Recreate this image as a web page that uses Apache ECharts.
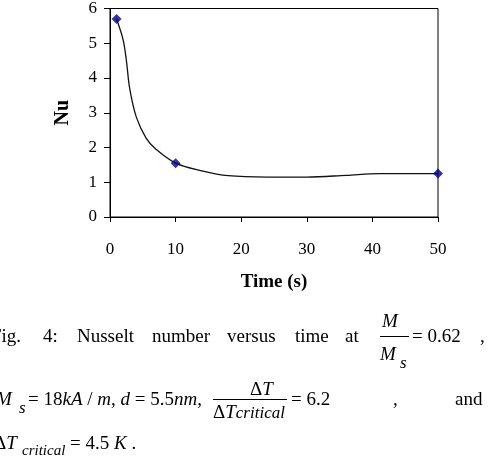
<!DOCTYPE html>
<html>
<head>
<meta charset="utf-8">
<script src="https://cdn.jsdelivr.net/npm/echarts@6/dist/echarts.min.js"></script>
<style>
  html, body { margin: 0; padding: 0; background: #fff; }
  #chart { position: absolute; left: 0; top: 0; width: 489px; height: 468px; }
  #caption span { position: absolute; font-family: "Liberation Serif", serif; font-size: 19px; line-height: 19px; color: #000; white-space: nowrap; }
  #caption .i { font-style: italic; }
  #caption .sub { font-size: 17px; font-style: italic; }
  #caption .bar { position: absolute; border-top: 1px solid #000; height: 0; }
</style>
</head>
<body>
<div id="chart"></div>
<div id="caption">
  <!-- line 1 -->
  <span style="left:-9px;top:326px">Fig.</span>
  <span style="left:43px;top:326px">4:</span>
  <span style="left:77px;top:326px">Nusselt</span>
  <span style="left:152px;top:326px">number</span>
  <span style="left:227px;top:326px">versus</span>
  <span style="left:295px;top:326px">time</span>
  <span style="left:345px;top:326px">at</span>
  <span class="i" style="left:382px;top:311px">M</span>
  <div class="bar" style="left:380px;top:336px;width:29px"></div>
  <span class="i" style="left:380px;top:344px">M</span>
  <span class="sub" style="left:400px;top:353px">s</span>
  <span style="left:412px;top:326px">= 0.62</span>
  <span style="left:480px;top:326px">,</span>
  <!-- line 2 -->
  <span class="i" style="left:-4px;top:389px">M</span>
  <span class="sub" style="left:19px;top:398px">s</span>
  <span style="left:28px;top:389px">= 18<i>kA</i> / <i>m</i>, <i>d</i> = 5.5<i>nm</i>,</span>
  <span style="left:250px;top:379px">Δ<i>T</i></span>
  <div class="bar" style="left:213px;top:399px;width:74px"></div>
  <span style="left:213px;top:402px">Δ<i>T</i><i style="font-size:17px">critical</i></span>
  <span style="left:291px;top:389px">= 6.2</span>
  <span style="left:393px;top:389px">,</span>
  <span style="left:455px;top:389px">and</span>
  <!-- line 3 -->
  <span style="left:-6px;top:433px">Δ<i>T</i></span>
  <span class="sub" style="left:22px;top:441px;font-size:15px">critical</span>
  <span style="left:70px;top:433px">= 4.5 <i>K</i> .</span>
</div>
<script>
// time (s) and Nusselt number
var times = [1, 2, 2.5, 3, 4, 5.5, 7, 10, 14, 18, 24, 30, 36, 41, 50];
var nu = [5.7, 5.1, 4.5, 3.7, 2.88, 2.27, 1.95, 1.55, 1.33, 1.19, 1.15, 1.15, 1.2, 1.25, 1.25];
// points drawn with markers
var markTimes = [1, 10, 50];
var markNu = [5.7, 1.55, 1.25];
var xTicks = [0, 10, 20, 30, 40, 50];
var yTicks = [0, 1, 2, 3, 4, 5, 6];

var chart = echarts.init(document.getElementById('chart'));

var curve = times.map(function (t, i) { return [t, nu[i]]; });
var marks = markTimes.map(function (t, i) { return [t, markNu[i]]; });

var font = 'Liberation Serif';

chart.setOption({
  animation: false,
  backgroundColor: '#fff',
  grid: {
    left: 110, right: 51, top: 7, bottom: 251,
    show: true, borderColor: '#000', borderWidth: 1
  },
  xAxis: {
    type: 'value',
    min: xTicks[0], max: xTicks[xTicks.length - 1], interval: 10,
    axisLine: { lineStyle: { color: '#000', width: 1 } },
    axisTick: { show: true, length: 5, lineStyle: { color: '#000' } },
    splitLine: { show: false },
    axisLabel: { color: '#000', fontFamily: font, fontSize: 17, margin: 24 },
    name: 'Time (s)',
    nameLocation: 'middle',
    nameGap: 56,
    nameTextStyle: { color: '#000', fontFamily: font, fontSize: 19, fontWeight: 'bold' }
  },
  yAxis: {
    type: 'value',
    min: yTicks[0], max: yTicks[yTicks.length - 1], interval: 1,
    axisLine: { show: true, lineStyle: { color: '#000', width: 1 } },
    axisTick: { show: true, length: 6, lineStyle: { color: '#000' } },
    splitLine: { show: false },
    axisLabel: { color: '#000', fontFamily: font, fontSize: 17, margin: 13 },
    name: 'Nu',
    nameLocation: 'middle',
    nameGap: 37,
    nameTextStyle: { color: '#000', fontFamily: font, fontSize: 20, fontWeight: 'bold' }
  },
  series: [
    {
      type: 'line',
      data: curve,
      smooth: 0.35,
      showSymbol: false,
      symbol: 'none',
      lineStyle: { color: '#111', width: 1.3 },
      z: 2
    },
    {
      type: 'scatter',
      data: marks,
      symbol: 'diamond',
      symbolSize: 10,
      itemStyle: { color: '#00007f' },
      z: 3
    }
  ]
});
</script>
</body>
</html>
